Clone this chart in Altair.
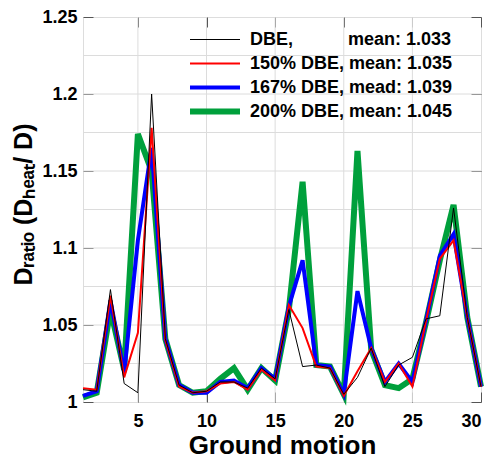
import altair as alt
import pandas as pd

motion = list(range(1, 31))
dbe = [1.008, 1.007, 1.073, 1.012, 1.006, 1.200, 1.041, 1.011, 1.006, 1.007,
       1.013, 1.013, 1.009, 1.022, 1.015, 1.060, 1.023, 1.024, 1.022, 1.005,
       1.016, 1.035, 1.010, 1.024, 1.029, 1.054, 1.056, 1.126, 1.055, 1.010]
dbe150 = [1.009, 1.008, 1.069, 1.016, 1.045, 1.178, 1.040, 1.010, 1.006, 1.007,
          1.012, 1.013, 1.008, 1.021, 1.014, 1.063, 1.048, 1.023, 1.022, 1.004,
          1.020, 1.035, 1.013, 1.025, 1.010, 1.053, 1.093, 1.105, 1.055, 1.010]
dbe167 = [1.004, 1.007, 1.066, 1.019, 1.105, 1.165, 1.041, 1.011, 1.006, 1.006,
          1.013, 1.014, 1.009, 1.022, 1.015, 1.062, 1.092, 1.024, 1.023, 1.005,
          1.072, 1.035, 1.013, 1.025, 1.013, 1.053, 1.095, 1.109, 1.055, 1.010]
dbe200 = [1.003, 1.006, 1.060, 1.021, 1.174, 1.150, 1.041, 1.011, 1.006, 1.007,
          1.015, 1.022, 1.008, 1.022, 1.014, 1.060, 1.143, 1.024, 1.023, 1.005,
          1.163, 1.034, 1.011, 1.009, 1.015, 1.052, 1.092, 1.128, 1.055, 1.010]

labels = ["DBE," + "\u00a0" * 11 + "mean: 1.033",
          "150% DBE, mean: 1.035",
          "167% DBE, mead: 1.039",
          "200% DBE, mean: 1.045"]
colors = ["#000000", "#ff0000", "#0000ff", "#00a03c"]
widths = [1, 2, 4, 6]

x_ticks = [5, 10, 15, 20, 25, 30]
y_ticks = [1.0, 1.05, 1.1, 1.15, 1.2, 1.25]
x_grid = [5, 10, 15, 20, 25]
y_grid = [1.025, 1.05, 1.075, 1.1, 1.125, 1.15, 1.175, 1.2, 1.225]

# drawing order: thickest first so thin lines lie on top
series_order = [(labels[3], dbe200), (labels[2], dbe167), (labels[1], dbe150), (labels[0], dbe)]
rows = []
for name, vals in series_order:
    for m, v in zip(motion, vals):
        rows.append({"motion": m, "value": v, "series": name})
df = pd.DataFrame(rows)

FONT = "Liberation Sans"
TICK = "#555555"
GRID = "#dcdcdc"
tick_in = {"expr": "-10"}

x_scale = alt.Scale(domain=[1, 30], nice=False, zero=False)
y_scale = alt.Scale(domain=[1.0, 1.25], nice=False, zero=False)

legend = alt.Legend(
    orient="none", legendX=104, legendY=11, title=None,
    symbolType="stroke", symbolSize=2500, labelFont=FONT, labelFontSize=18,
    labelFontWeight="bold", labelColor="black", labelOffset=7, rowPadding=1,
    clipHeight=23, padding=0, labelLimit=400,
)

gx = alt.Chart(pd.DataFrame({"gx": x_grid})).mark_rule(color=GRID, strokeWidth=1).encode(
    x=alt.X("gx:Q", scale=x_scale,
            axis=alt.Axis(orient="top", values=x_ticks, labels=False, grid=False,
                          domain=False, tickSize=tick_in, tickColor=TICK, title=None))
)
gy = alt.Chart(pd.DataFrame({"gy": y_grid})).mark_rule(color=GRID, strokeWidth=1).encode(
    y=alt.Y("gy:Q", scale=y_scale,
            axis=alt.Axis(orient="right", values=y_ticks, labels=False, grid=False,
                          domain=False, tickSize=tick_in, tickColor=TICK, title=None))
)

lines = alt.Chart(df).mark_line().encode(
    x=alt.X("motion:Q", scale=x_scale,
            axis=alt.Axis(orient="bottom", values=x_ticks, format="d", grid=False,
                          domain=False, tickSize=tick_in, tickColor=TICK,
                          labelPadding=34, labelBaseline="alphabetic",
                          labelFont=FONT, labelFontSize=18, labelFontWeight="bold",
                          labelColor="black",
                          title="Ground motion", titleFont=FONT, titleFontSize=26,
                          titleFontWeight="bold", titleColor="black",
                          titleX=199, titleY=51, titleBaseline="alphabetic",
                          titleAlign="center")),
    y=alt.Y("value:Q", scale=y_scale,
            axis=alt.Axis(orient="left", values=y_ticks, format="~g", grid=False,
                          domain=False, tickSize=tick_in, tickColor=TICK,
                          labelPadding=16, labelFont=FONT, labelFontSize=18,
                          labelFontWeight="bold", labelColor="black",
                          title="D\u1d63\u2090\u209c\u1d62\u2092 (D\u2095\u2091\u2090\u209c/ D)",
                          titleFont=FONT, titleFontSize=25, titleFontWeight="bold",
                          titleColor="black", titleX=-60, titleY=187,
                          titleAngle=270, titleBaseline="middle", titleAlign="center")),
    color=alt.Color("series:N", scale=alt.Scale(type="ordinal", domain=labels, range=colors), legend=legend),
    strokeWidth=alt.StrokeWidth("series:N", scale=alt.Scale(type="ordinal", domain=labels, range=widths), legend=legend),
)

chart = alt.layer(gx, gy, lines).properties(
    width=398, height=385,
    autosize=alt.AutoSizeParams(type="none"),
    padding={"left": 75, "top": 9, "right": 4, "bottom": 58},
).configure_view(stroke="#555555", strokeWidth=1).configure(font=FONT)

chart.save("out.html", embed_options={"renderer": "svg", "actions": False})
